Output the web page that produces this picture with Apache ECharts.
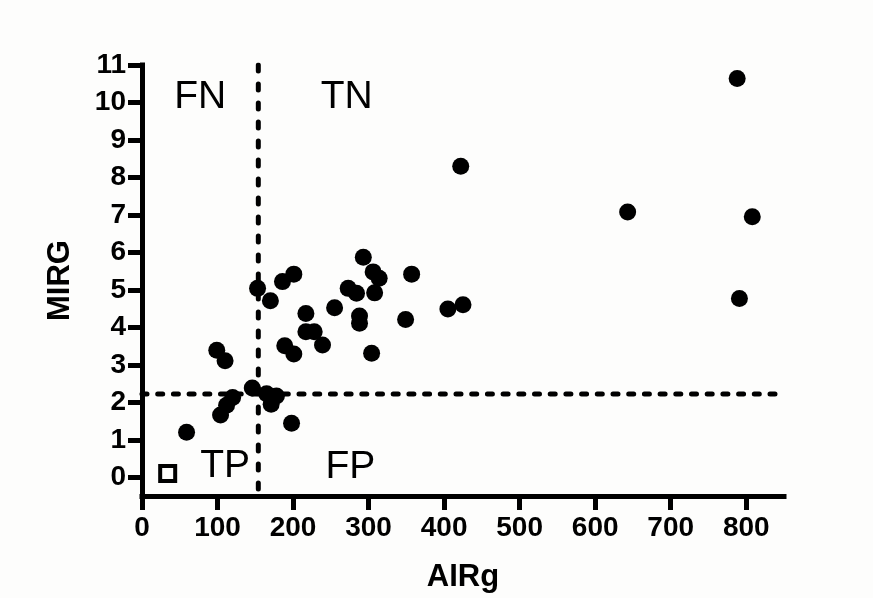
<!DOCTYPE html>
<html>
<head>
<meta charset="utf-8">
<script src="https://cdn.jsdelivr.net/npm/echarts@6/dist/echarts.min.js"></script>
<style>
  html, body { margin: 0; padding: 0; background: #fdfdfc; }
  #chart { width: 873px; height: 598px; }
</style>
</head>
<body>
<div id="chart"></div>
<script>
// Patient measurements: AIRg on x, MIRG on y
const airg = [788, 422, 643, 808, 791, 357, 349, 405, 425,
  293, 306, 314, 201, 186, 153, 170, 273, 284, 308, 255,
  217, 288, 288, 217, 228, 239, 189, 201, 304, 99, 110,
  146, 165, 178, 171, 104, 112, 120, 198, 59];
const mirg = [10.64, 8.30, 7.08, 6.95, 4.77, 5.42, 4.21, 4.49, 4.60,
  5.87, 5.48, 5.31, 5.42, 5.22, 5.04, 4.71, 5.04, 4.91, 4.92, 4.52,
  4.37, 4.30, 4.11, 3.88, 3.88, 3.53, 3.51, 3.29, 3.31, 3.39, 3.11,
  2.38, 2.23, 2.17, 1.95, 1.66, 1.92, 2.13, 1.44, 1.20];

// Control sample (open square)
const controlAirg = [34];
const controlMirg = [0.1];

// Cut-off values drawn as dashed lines
const airgCutoff = 154;
const mirgCutoff = 2.22;

// Axis ticks
const xTicks = [0, 100, 200, 300, 400, 500, 600, 700, 800];
const yTicks = [0, 1, 2, 3, 4, 5, 6, 7, 8, 9, 10, 11];

// Quadrant names
const quadrants = ['FN', 'TN', 'TP', 'FP'];

const X_MIN = 0, X_MAX = 850, Y_MIN = -0.5, Y_MAX = 11;

const chart = echarts.init(document.getElementById('chart'), null, { renderer: 'canvas' });

const FONT = 'Liberation Sans, Arial, sans-serif';
const axisLine = { show: true, onZero: false, lineStyle: { color: '#000', width: 5, cap: 'square' } };
const axisTick = (vals) => ({ show: true, inside: false, length: 14, customValues: vals,
  lineStyle: { color: '#000', width: 5 } });
const tickFont = { color: '#000', fontFamily: FONT, fontWeight: 'bold', fontSize: 28 };

// Where each quadrant name sits, in axis units
const quadrantPos = [[77, 10.14], [271, 10.14], [110, 0.30], [276, 0.27]];

chart.setOption({
  backgroundColor: '#fdfdfc',
  animation: false,
  grid: { left: 142, right: 89, top: 65, bottom: 102, containLabel: false },
  xAxis: {
    type: 'value', min: X_MIN, max: X_MAX,
    name: 'AIRg', nameLocation: 'middle', nameGap: 66,
    nameTextStyle: { color: '#000', fontFamily: FONT, fontWeight: 'bold', fontSize: 31 },
    axisLine: axisLine,
    axisTick: axisTick(xTicks),
    axisLabel: Object.assign({ customValues: xTicks, margin: 18 }, tickFont),
    splitLine: { show: false }
  },
  yAxis: {
    type: 'value', min: Y_MIN, max: Y_MAX,
    name: 'MIRG', nameLocation: 'middle', nameGap: 66,
    nameTextStyle: { color: '#000', fontFamily: FONT, fontWeight: 'bold', fontSize: 31 },
    axisLine: axisLine,
    axisTick: axisTick(yTicks),
    axisLabel: Object.assign({ customValues: yTicks, margin: 16 }, tickFont),
    splitLine: { show: false }
  },
  series: [
    {
      name: 'AIRg cut-off', type: 'line', symbol: 'none', silent: true, z: 1,
      lineStyle: { color: '#000', width: 5, type: [6, 13], cap: 'round' },
      data: [[airgCutoff, Y_MAX], [airgCutoff, Y_MIN]]
    },
    {
      name: 'MIRG cut-off', type: 'line', symbol: 'none', silent: true, z: 1,
      lineStyle: { color: '#000', width: 5, type: [5, 10.7], cap: 'round' },
      data: [[X_MIN, mirgCutoff], [840, mirgCutoff]]
    },
    {
      name: 'Patients', type: 'scatter', z: 3,
      symbol: 'circle', symbolSize: 17,
      itemStyle: { color: '#000', opacity: 1 },
      data: airg.map((v, i) => [v, mirg[i]])
    },
    {
      name: 'Control', type: 'scatter', z: 3,
      symbol: 'rect', symbolSize: 15,
      itemStyle: { color: '#fdfdfc', borderColor: '#000', borderWidth: 4, opacity: 1 },
      data: controlAirg.map((v, i) => [v, controlMirg[i]])
    },
    {
      name: 'Quadrants', type: 'scatter', z: 4, silent: true,
      symbol: 'circle', symbolSize: 0.01,
      itemStyle: { color: '#000', opacity: 1 },
      label: {
        show: true, position: 'inside', formatter: (p) => p.name,
        color: '#000', textBorderWidth: 0, opacity: 1,
        fontFamily: FONT, fontWeight: 'normal', fontSize: 39
      },
      data: quadrants.map((q, i) => ({ name: q, value: quadrantPos[i] }))
    }
  ]
});
</script>
</body>
</html>
